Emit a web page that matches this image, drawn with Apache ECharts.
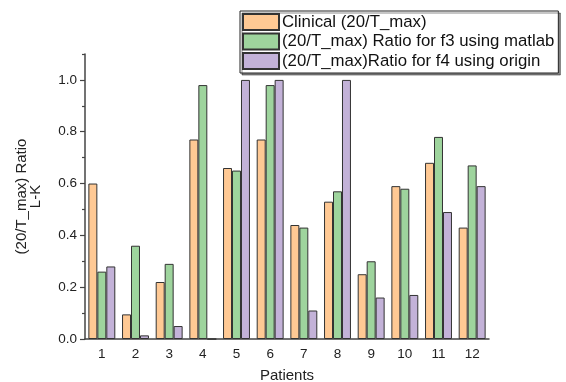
<!DOCTYPE html>
<html>
<head>
<meta charset="utf-8">
<script src="https://cdn.jsdelivr.net/npm/echarts@6/dist/echarts.min.js"></script>
<style>html,body{margin:0;padding:0;background:#fff}#c{width:566px;height:382px}</style>
</head>
<body>
<div id="c"></div>
<script>
var categories = ['1','2','3','4','5','6','7','8','9','10','11','12'];
var clinical = [0.60, 0.095, 0.22, 0.77, 0.66, 0.77, 0.44, 0.53, 0.25, 0.59, 0.68, 0.43];
var matlabF3 = [0.26, 0.36, 0.29, 0.98, 0.65, 0.98, 0.43, 0.57, 0.30, 0.58, 0.78, 0.67];
var originF4 = [0.28, 0.014, 0.05, 0, 1.0, 1.0, 0.11, 1.0, 0.16, 0.17, 0.49, 0.59];
var yMajorTicks = [0, 0.2, 0.4, 0.6, 0.8, 1.0];
var yMinorTicks = [0.1, 0.3, 0.5, 0.7, 0.9, 1.1];
var seriesNames = ['Clinical (20/T_max)', '(20/T_max) Ratio for f3 using matlab', '(20/T_max)Ratio for f4 using origin'];
var colors = ['#FFC994', '#9ED49D', '#C3B2D8'];

var chart = echarts.init(document.getElementById('c'), null, {renderer: 'canvas'});
var axisCol = '#444';
var font = 'Liberation Sans, Arial, sans-serif';
function mkSeries(i, data) {
  return {
    name: seriesNames[i], type: 'bar', data: data,
    barGap: '0%', barCategoryGap: '20%',
    itemStyle: {color: colors[i], borderColor: '#333', borderWidth: 1},
    emphasis: {disabled: true}
  };
}
chart.setOption({
  animation: false,
  textStyle: {fontFamily: font},
  grid: {left: 85, right: 77, top: 54, bottom: 43, outerBoundsMode: 'none', containLabel: false},
  legend: {
    orient: 'vertical', left: 240, top: 11,
    itemWidth: 36, itemHeight: 16, itemGap: 1.5,
    padding: [2, 4, 3, 2],
    borderColor: '#222', borderWidth: 1,
    shadowColor: 'rgba(0,0,0,0.45)', shadowOffsetX: 2, shadowOffsetY: 2, shadowBlur: 0,
    backgroundColor: '#fff',
    textStyle: {fontSize: 16.8, lineHeight: 16, color: '#111', fontFamily: font, padding: [0, 0, 0, -2]},
    icon: 'rect',
    data: seriesNames
  },
  xAxis: [{
    type: 'category', data: categories,
    name: 'Patients', nameLocation: 'middle', nameGap: 29,
    nameTextStyle: {fontSize: 15, color: '#222', fontFamily: font},
    axisLine: {lineStyle: {color: axisCol, width: 1.5}},
    axisTick: {alignWithLabel: true, length: 5, lineStyle: {color: axisCol, width: 1.2}},
    axisLabel: {fontSize: 13.5, color: '#222', margin: 8, fontFamily: font},
    splitLine: {show: false}
  }, {
    type: 'category', data: categories, position: 'bottom',
    axisLine: {show: false},
    axisTick: {alignWithLabel: false, length: 3, lineStyle: {color: axisCol, width: 1.2}},
    axisLabel: {show: false},
    splitLine: {show: false}
  }],
  yAxis: [{
    type: 'value', min: 0, max: 1.1,
    name: '(20/T_max) Ratio\nL-K', nameLocation: 'middle', nameGap: 42,
    nameTextStyle: {fontSize: 15, color: '#222', lineHeight: 14, fontFamily: font, align: 'center'},
    axisLine: {show: true, lineStyle: {color: axisCol, width: 1.5}},
    axisTick: {show: true, length: 5, customValues: yMajorTicks, lineStyle: {color: axisCol, width: 1.2}},
    axisLabel: {customValues: yMajorTicks, fontSize: 13.5, color: '#222', margin: 8, fontFamily: font,
      formatter: function (v) { return v.toFixed(1); }},
    splitLine: {show: false}
  }, {
    type: 'value', min: 0, max: 1.1, position: 'left', offset: 0,
    axisLine: {show: false},
    axisTick: {show: true, length: 3, customValues: yMinorTicks, lineStyle: {color: axisCol, width: 1.2}},
    axisLabel: {show: false},
    splitLine: {show: false}
  }],
  series: [mkSeries(0, clinical), mkSeries(1, matlabF3), mkSeries(2, originF4)]
});
</script>
</body>
</html>
